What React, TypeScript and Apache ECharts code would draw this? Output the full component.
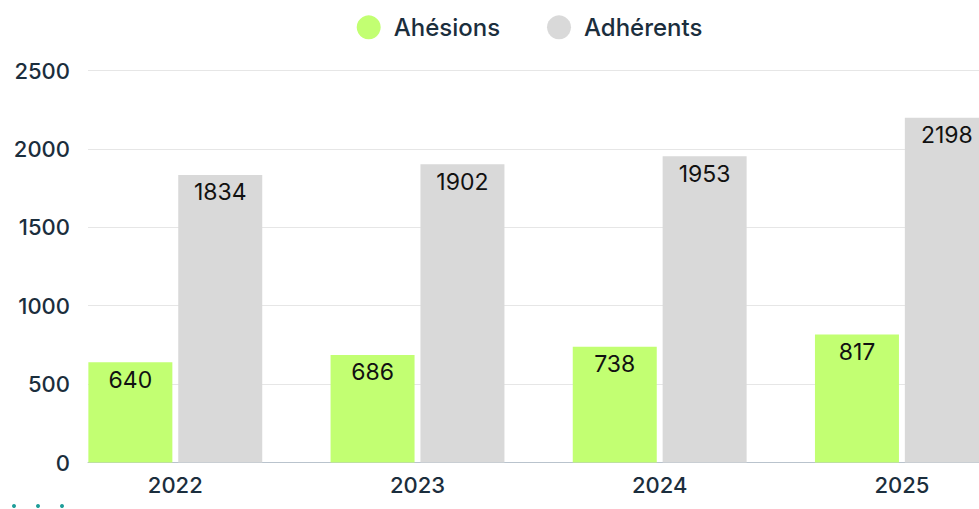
import React, { useEffect, useRef } from "react";
import * as echarts from "echarts";

const categories = ["2022", "2023", "2024", "2025"];
const adhesions = [640, 686, 738, 817];
const adherents = [1834, 1902, 1953, 2198];
const yTicks = { min: 0, max: 2500, interval: 500 };
const seriesNames = ["Ahésions", "Adhérents"];

const FONT = "Inter, 'Noto Sans', sans-serif";
const NAVY = "#1b2e3d";
const GREEN = "#c2ff72";
const GREY = "#d9d9d9";
const CHART_W = 1065;

export default function App() {
  const ref = useRef<HTMLDivElement>(null);
  useEffect(() => {
    if (!ref.current) return;
    const chart = echarts.init(ref.current, undefined, { renderer: "svg" });
    const legendText = { color: NAVY, fontSize: 24, fontWeight: 500, fontFamily: FONT };
    const dataLabel = {
      show: true,
      position: "insideTop",
      distance: 6,
      color: "#111111",
      fontSize: 23,
      fontFamily: FONT,
    };
    chart.setOption({
      animation: false,
      backgroundColor: "#ffffff",
      legend: [
        {
          data: [seriesNames[0]],
          left: 356.7,
          top: 15.3,
          padding: 0,
          icon: "circle",
          itemWidth: 40,
          itemHeight: 24,
          textStyle: legendText,
        },
        {
          data: [seriesNames[1]],
          left: 547,
          top: 15.3,
          padding: 0,
          icon: "circle",
          itemWidth: 40,
          itemHeight: 24,
          textStyle: legendText,
        },
      ],
      grid: [
        { left: 54.2, right: CHART_W - 54.2 - 968.8, top: 70.5, bottom: 46.5 },
        { left: 88, right: 0, top: 70.5, bottom: 46.5 },
      ],
      xAxis: [
        {
          type: "category",
          gridIndex: 0,
          data: categories,
          axisLine: { show: false },
          axisTick: { show: false },
          axisLabel: { color: NAVY, fontSize: 22, fontWeight: 500, fontFamily: FONT, margin: 11 },
        },
        {
          type: "category",
          gridIndex: 1,
          data: categories,
          axisLine: { show: true, lineStyle: { color: "#b9c3cd", width: 1 } },
          axisTick: { show: false },
          axisLabel: { show: false },
        },
      ],
      yAxis: [
        {
          type: "value",
          gridIndex: 0,
          min: yTicks.min,
          max: yTicks.max,
          interval: yTicks.interval,
          show: false,
        },
        {
          type: "value",
          gridIndex: 1,
          min: yTicks.min,
          max: yTicks.max,
          interval: yTicks.interval,
          axisLine: { show: false },
          axisTick: { show: false },
          splitLine: { lineStyle: { color: "#e6e6e6", width: 1 } },
          axisLabel: {
            color: NAVY,
            fontSize: 22,
            fontWeight: 500,
            fontFamily: FONT,
            margin: 18,
            formatter: (v: number) => String(v),
          },
        },
      ],
      series: [
        {
          name: seriesNames[0],
          type: "bar",
          xAxisIndex: 0,
          yAxisIndex: 0,
          data: adhesions,
          barWidth: 84,
          barGap: "7%",
          itemStyle: { color: GREEN },
          label: dataLabel,
        },
        {
          name: seriesNames[1],
          type: "bar",
          xAxisIndex: 0,
          yAxisIndex: 0,
          data: adherents,
          barWidth: 84,
          barGap: "7%",
          itemStyle: { color: GREY },
          label: dataLabel,
        },
      ],
      graphic: [
        { type: "circle", shape: { cx: 14, cy: 506, r: 2 }, style: { fill: "#1f9e9a" } },
        { type: "circle", shape: { cx: 38, cy: 506, r: 2 }, style: { fill: "#1f9e9a" } },
        { type: "circle", shape: { cx: 62, cy: 506, r: 2 }, style: { fill: "#1f9e9a" } },
      ],
    });
    return () => chart.dispose();
  }, []);
  return (
    <div style={{ position: "fixed", left: 0, top: 0, width: 979, height: 509, overflow: "hidden" }}>
      <div ref={ref} style={{ width: CHART_W, height: 509 }} />
    </div>
  );
}
